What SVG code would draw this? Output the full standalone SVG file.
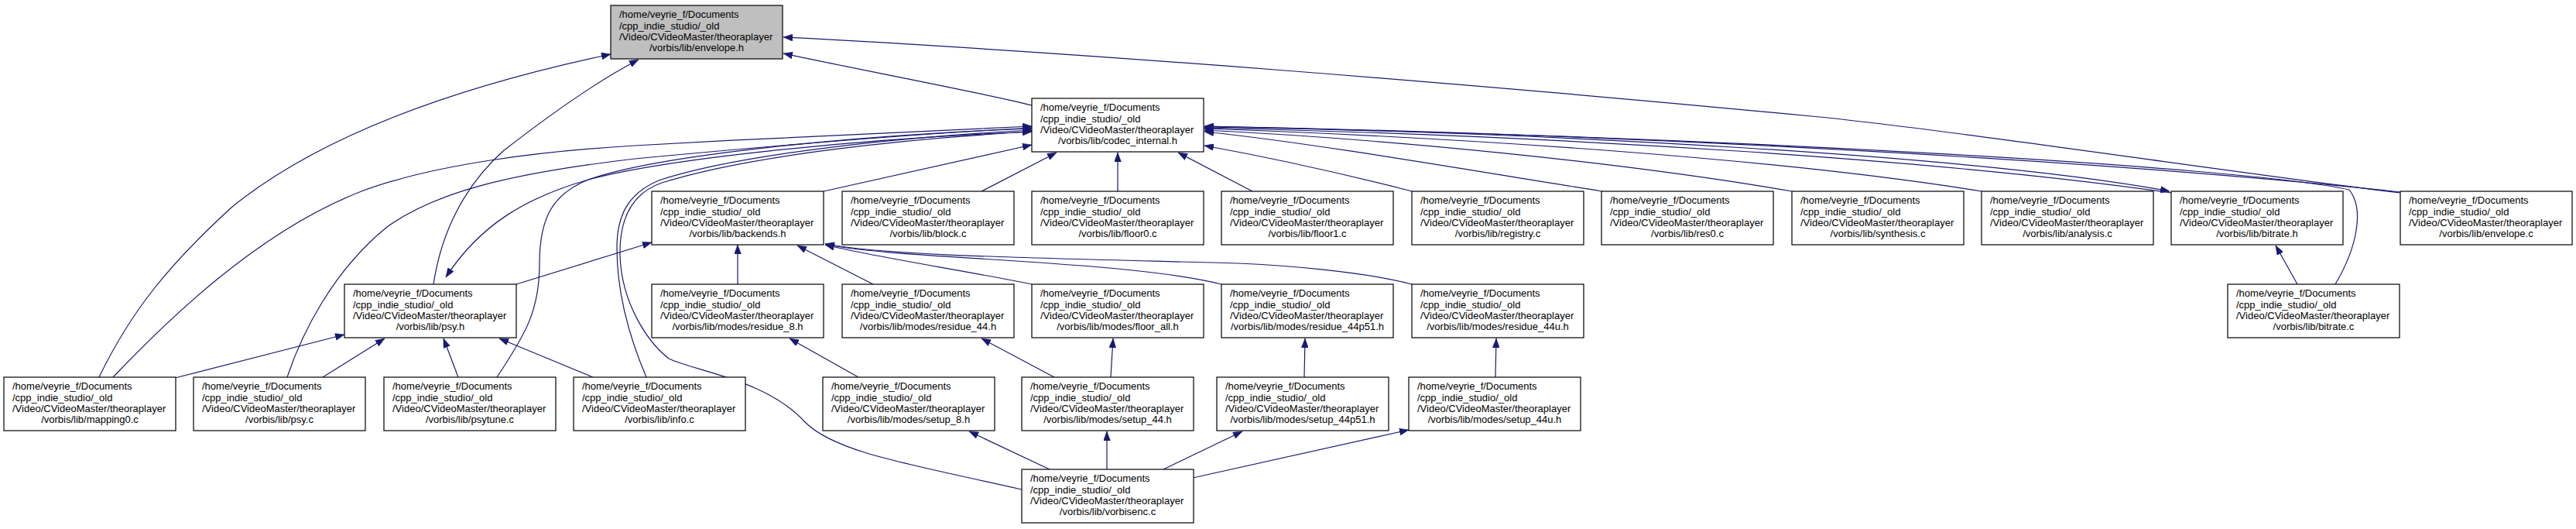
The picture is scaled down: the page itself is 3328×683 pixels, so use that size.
<svg xmlns="http://www.w3.org/2000/svg" width="3328" height="683" viewBox="0 0 3328 683">
<style>
.box{fill:#ffffff;stroke:#000000;stroke-width:1.2}
.root{fill:#bfbfbf;stroke:#000000;stroke-width:1.2}
.t{font-family:"Liberation Sans",Arial,sans-serif;font-size:13px;fill:#000000}
.c{text-anchor:middle}
.e{fill:none;stroke:#191970;stroke-width:1.2;marker-end:url(#ah)}
</style>
<defs>
<marker id="ah" markerUnits="userSpaceOnUse" markerWidth="12" markerHeight="9" refX="12" refY="4.5" orient="auto">
<path d="M0,0 L12,4.5 L0,9 z" fill="#191970" stroke="#191970" stroke-width="0.5"/>
</marker>
</defs>
<rect x="0" y="0" width="3328" height="683" fill="#ffffff"/>
<g id="connectors">
<path class="e" d="M1333,136 C1290,124 1100,88 1012,69"/>
<path class="e" d="M3101,249 C2900,225 2500,165 2340,150 C1900,108 1400,68 1012,48"/>
<path class="e" d="M128,487 C170,400 220,340 300,267 C420,170 600,110 789,70"/>
<path class="e" d="M560,367 C570,300 600,240 650,195 C740,125 790,95 825,77"/>
<path class="e" d="M1333,170 C1100,180 860,205 760,232 C680,255 620,290 576,358"/>
<path class="e" d="M146,487 C210,420 330,300 467,247 C560,212 700,195 820,188 C1000,178 1200,168 1333,163"/>
<path class="e" d="M371,487 C390,430 430,350 500,293 C560,250 650,225 820,205 C1000,188 1200,172 1333,165"/>
<path class="e" d="M642,487 C680,430 697,400 697,340 C697,280 715,250 760,232 C850,200 1100,175 1333,166"/>
<path class="e" d="M835,487 C815,440 797,380 797,320 C797,280 810,250 851,233 C950,200 1150,178 1333,168"/>
<path class="e" d="M1320,632 C1180,600 1080,585 1040,545 C990,490 900,480 864,463 C835,440 803,390 801,330 C800,285 815,250 855,236 C960,203 1150,180 1333,170"/>
<path class="e" d="M1064,247 L1333,187"/>
<path class="e" d="M1268,247 L1365,197"/>
<path class="e" d="M1444,247 L1444,197"/>
<path class="e" d="M1618,247 L1522,197"/>
<path class="e" d="M1824,247 C1750,228 1650,205 1556,188"/>
<path class="e" d="M2070,247 C1900,220 1700,185 1556,170"/>
<path class="e" d="M2315,247 C2100,210 1800,180 1556,168"/>
<path class="e" d="M2560,247 C2300,205 1900,178 1556,166"/>
<path class="e" d="M2805,249 C2500,205 2000,175 1556,165"/>
<path class="e" d="M1556,163 C2000,172 2550,200 2803,247"/>
<path class="e" d="M3017,367 C3045,320 3055,270 3035,245 C2900,215 2200,175 1556,164"/>
<path class="e" d="M3101,248 C2800,215 2200,175 1556,163"/>
<path class="e" d="M2968,367 L2940,317"/>
<path class="e" d="M667,367 L842,313"/>
<path class="e" d="M226,488 L445,432"/>
<path class="e" d="M417,487 L497,437"/>
<path class="e" d="M592,487 L573,437"/>
<path class="e" d="M766,487 L645,437"/>
<path class="e" d="M953,367 L953,316"/>
<path class="e" d="M1128,367 L1030,317"/>
<path class="e" d="M1333,367 C1250,350 1120,330 1066,316"/>
<path class="e" d="M1578,367 C1450,335 1150,335 1066,315"/>
<path class="e" d="M1824,367 C1760,350 1650,342 1600,340 C1300,332 1150,330 1066,315"/>
<path class="e" d="M1109,487 L1020,437"/>
<path class="e" d="M1362,487 L1268,437"/>
<path class="e" d="M1435,487 L1438,437"/>
<path class="e" d="M1685,487 L1686,437"/>
<path class="e" d="M1932,487 L1933,437"/>
<path class="e" d="M1356,606 L1252,557"/>
<path class="e" d="M1430,606 L1430,557"/>
<path class="e" d="M1503,606 L1605,557"/>
<path class="e" d="M1541,617 L1820,555"/>
</g>
<g id="n_envelope_h"><rect class="root" x="789" y="7" width="222" height="69"/><text class="t" x="800" y="23">/home/veyrie_f/Documents</text><text class="t" x="800" y="37.5">/cpp_indie_studio/_old</text><text class="t" x="800" y="52">/Video/CVideoMaster/theoraplayer</text><text class="t c" x="900" y="66.4">/vorbis/lib/envelope.h</text></g>
<g id="n_codec_internal_h"><rect class="box" x="1333" y="127" width="222" height="69"/><text class="t" x="1344" y="143">/home/veyrie_f/Documents</text><text class="t" x="1344" y="157.5">/cpp_indie_studio/_old</text><text class="t" x="1344" y="172">/Video/CVideoMaster/theoraplayer</text><text class="t c" x="1444" y="186.4">/vorbis/lib/codec_internal.h</text></g>
<g id="n_backends_h"><rect class="box" x="842" y="247" width="222" height="69"/><text class="t" x="853" y="263">/home/veyrie_f/Documents</text><text class="t" x="853" y="277.5">/cpp_indie_studio/_old</text><text class="t" x="853" y="292">/Video/CVideoMaster/theoraplayer</text><text class="t c" x="953" y="306.4">/vorbis/lib/backends.h</text></g>
<g id="n_block_c"><rect class="box" x="1088" y="247" width="222" height="69"/><text class="t" x="1099" y="263">/home/veyrie_f/Documents</text><text class="t" x="1099" y="277.5">/cpp_indie_studio/_old</text><text class="t" x="1099" y="292">/Video/CVideoMaster/theoraplayer</text><text class="t c" x="1199" y="306.4">/vorbis/lib/block.c</text></g>
<g id="n_floor0_c"><rect class="box" x="1333" y="247" width="222" height="69"/><text class="t" x="1344" y="263">/home/veyrie_f/Documents</text><text class="t" x="1344" y="277.5">/cpp_indie_studio/_old</text><text class="t" x="1344" y="292">/Video/CVideoMaster/theoraplayer</text><text class="t c" x="1444" y="306.4">/vorbis/lib/floor0.c</text></g>
<g id="n_floor1_c"><rect class="box" x="1578" y="247" width="222" height="69"/><text class="t" x="1589" y="263">/home/veyrie_f/Documents</text><text class="t" x="1589" y="277.5">/cpp_indie_studio/_old</text><text class="t" x="1589" y="292">/Video/CVideoMaster/theoraplayer</text><text class="t c" x="1689" y="306.4">/vorbis/lib/floor1.c</text></g>
<g id="n_registry_c"><rect class="box" x="1824" y="247" width="222" height="69"/><text class="t" x="1835" y="263">/home/veyrie_f/Documents</text><text class="t" x="1835" y="277.5">/cpp_indie_studio/_old</text><text class="t" x="1835" y="292">/Video/CVideoMaster/theoraplayer</text><text class="t c" x="1935" y="306.4">/vorbis/lib/registry.c</text></g>
<g id="n_res0_c"><rect class="box" x="2069" y="247" width="222" height="69"/><text class="t" x="2080" y="263">/home/veyrie_f/Documents</text><text class="t" x="2080" y="277.5">/cpp_indie_studio/_old</text><text class="t" x="2080" y="292">/Video/CVideoMaster/theoraplayer</text><text class="t c" x="2180" y="306.4">/vorbis/lib/res0.c</text></g>
<g id="n_synthesis_c"><rect class="box" x="2315" y="247" width="222" height="69"/><text class="t" x="2326" y="263">/home/veyrie_f/Documents</text><text class="t" x="2326" y="277.5">/cpp_indie_studio/_old</text><text class="t" x="2326" y="292">/Video/CVideoMaster/theoraplayer</text><text class="t c" x="2426" y="306.4">/vorbis/lib/synthesis.c</text></g>
<g id="n_analysis_c"><rect class="box" x="2560" y="247" width="222" height="69"/><text class="t" x="2571" y="263">/home/veyrie_f/Documents</text><text class="t" x="2571" y="277.5">/cpp_indie_studio/_old</text><text class="t" x="2571" y="292">/Video/CVideoMaster/theoraplayer</text><text class="t c" x="2671" y="306.4">/vorbis/lib/analysis.c</text></g>
<g id="n_bitrate_h"><rect class="box" x="2805" y="247" width="222" height="69"/><text class="t" x="2816" y="263">/home/veyrie_f/Documents</text><text class="t" x="2816" y="277.5">/cpp_indie_studio/_old</text><text class="t" x="2816" y="292">/Video/CVideoMaster/theoraplayer</text><text class="t c" x="2916" y="306.4">/vorbis/lib/bitrate.h</text></g>
<g id="n_envelope_c"><rect class="box" x="3101" y="247" width="222" height="69"/><text class="t" x="3112" y="263">/home/veyrie_f/Documents</text><text class="t" x="3112" y="277.5">/cpp_indie_studio/_old</text><text class="t" x="3112" y="292">/Video/CVideoMaster/theoraplayer</text><text class="t c" x="3212" y="306.4">/vorbis/lib/envelope.c</text></g>
<g id="n_psy_h"><rect class="box" x="445" y="367" width="222" height="69"/><text class="t" x="456" y="383">/home/veyrie_f/Documents</text><text class="t" x="456" y="397.5">/cpp_indie_studio/_old</text><text class="t" x="456" y="412">/Video/CVideoMaster/theoraplayer</text><text class="t c" x="556" y="426.4">/vorbis/lib/psy.h</text></g>
<g id="n_residue_8_h"><rect class="box" x="842" y="367" width="222" height="69"/><text class="t" x="853" y="383">/home/veyrie_f/Documents</text><text class="t" x="853" y="397.5">/cpp_indie_studio/_old</text><text class="t" x="853" y="412">/Video/CVideoMaster/theoraplayer</text><text class="t c" x="953" y="426.4">/vorbis/lib/modes/residue_8.h</text></g>
<g id="n_residue_44_h"><rect class="box" x="1088" y="367" width="222" height="69"/><text class="t" x="1099" y="383">/home/veyrie_f/Documents</text><text class="t" x="1099" y="397.5">/cpp_indie_studio/_old</text><text class="t" x="1099" y="412">/Video/CVideoMaster/theoraplayer</text><text class="t c" x="1199" y="426.4">/vorbis/lib/modes/residue_44.h</text></g>
<g id="n_floor_all_h"><rect class="box" x="1333" y="367" width="222" height="69"/><text class="t" x="1344" y="383">/home/veyrie_f/Documents</text><text class="t" x="1344" y="397.5">/cpp_indie_studio/_old</text><text class="t" x="1344" y="412">/Video/CVideoMaster/theoraplayer</text><text class="t c" x="1444" y="426.4">/vorbis/lib/modes/floor_all.h</text></g>
<g id="n_residue_44p51_h"><rect class="box" x="1578" y="367" width="222" height="69"/><text class="t" x="1589" y="383">/home/veyrie_f/Documents</text><text class="t" x="1589" y="397.5">/cpp_indie_studio/_old</text><text class="t" x="1589" y="412">/Video/CVideoMaster/theoraplayer</text><text class="t c" x="1689" y="426.4">/vorbis/lib/modes/residue_44p51.h</text></g>
<g id="n_residue_44u_h"><rect class="box" x="1824" y="367" width="222" height="69"/><text class="t" x="1835" y="383">/home/veyrie_f/Documents</text><text class="t" x="1835" y="397.5">/cpp_indie_studio/_old</text><text class="t" x="1835" y="412">/Video/CVideoMaster/theoraplayer</text><text class="t c" x="1935" y="426.4">/vorbis/lib/modes/residue_44u.h</text></g>
<g id="n_bitrate_c"><rect class="box" x="2878" y="367" width="222" height="69"/><text class="t" x="2889" y="383">/home/veyrie_f/Documents</text><text class="t" x="2889" y="397.5">/cpp_indie_studio/_old</text><text class="t" x="2889" y="412">/Video/CVideoMaster/theoraplayer</text><text class="t c" x="2989" y="426.4">/vorbis/lib/bitrate.c</text></g>
<g id="n_mapping0_c"><rect class="box" x="5" y="487" width="222" height="69"/><text class="t" x="16" y="503">/home/veyrie_f/Documents</text><text class="t" x="16" y="517.5">/cpp_indie_studio/_old</text><text class="t" x="16" y="532">/Video/CVideoMaster/theoraplayer</text><text class="t c" x="116" y="546.4">/vorbis/lib/mapping0.c</text></g>
<g id="n_psy_c"><rect class="box" x="250" y="487" width="222" height="69"/><text class="t" x="261" y="503">/home/veyrie_f/Documents</text><text class="t" x="261" y="517.5">/cpp_indie_studio/_old</text><text class="t" x="261" y="532">/Video/CVideoMaster/theoraplayer</text><text class="t c" x="361" y="546.4">/vorbis/lib/psy.c</text></g>
<g id="n_psytune_c"><rect class="box" x="496" y="487" width="222" height="69"/><text class="t" x="507" y="503">/home/veyrie_f/Documents</text><text class="t" x="507" y="517.5">/cpp_indie_studio/_old</text><text class="t" x="507" y="532">/Video/CVideoMaster/theoraplayer</text><text class="t c" x="607" y="546.4">/vorbis/lib/psytune.c</text></g>
<g id="n_info_c"><rect class="box" x="741" y="487" width="222" height="69"/><text class="t" x="752" y="503">/home/veyrie_f/Documents</text><text class="t" x="752" y="517.5">/cpp_indie_studio/_old</text><text class="t" x="752" y="532">/Video/CVideoMaster/theoraplayer</text><text class="t c" x="852" y="546.4">/vorbis/lib/info.c</text></g>
<g id="n_setup_8_h"><rect class="box" x="1063" y="487" width="222" height="69"/><text class="t" x="1074" y="503">/home/veyrie_f/Documents</text><text class="t" x="1074" y="517.5">/cpp_indie_studio/_old</text><text class="t" x="1074" y="532">/Video/CVideoMaster/theoraplayer</text><text class="t c" x="1174" y="546.4">/vorbis/lib/modes/setup_8.h</text></g>
<g id="n_setup_44_h"><rect class="box" x="1320" y="487" width="222" height="69"/><text class="t" x="1331" y="503">/home/veyrie_f/Documents</text><text class="t" x="1331" y="517.5">/cpp_indie_studio/_old</text><text class="t" x="1331" y="532">/Video/CVideoMaster/theoraplayer</text><text class="t c" x="1431" y="546.4">/vorbis/lib/modes/setup_44.h</text></g>
<g id="n_setup_44p51_h"><rect class="box" x="1572" y="487" width="222" height="69"/><text class="t" x="1583" y="503">/home/veyrie_f/Documents</text><text class="t" x="1583" y="517.5">/cpp_indie_studio/_old</text><text class="t" x="1583" y="532">/Video/CVideoMaster/theoraplayer</text><text class="t c" x="1683" y="546.4">/vorbis/lib/modes/setup_44p51.h</text></g>
<g id="n_setup_44u_h"><rect class="box" x="1820" y="487" width="222" height="69"/><text class="t" x="1831" y="503">/home/veyrie_f/Documents</text><text class="t" x="1831" y="517.5">/cpp_indie_studio/_old</text><text class="t" x="1831" y="532">/Video/CVideoMaster/theoraplayer</text><text class="t c" x="1931" y="546.4">/vorbis/lib/modes/setup_44u.h</text></g>
<g id="n_vorbisenc_c"><rect class="box" x="1320" y="606" width="222" height="69"/><text class="t" x="1331" y="622">/home/veyrie_f/Documents</text><text class="t" x="1331" y="636.5">/cpp_indie_studio/_old</text><text class="t" x="1331" y="651">/Video/CVideoMaster/theoraplayer</text><text class="t c" x="1431" y="665.4">/vorbis/lib/vorbisenc.c</text></g>
</svg>
